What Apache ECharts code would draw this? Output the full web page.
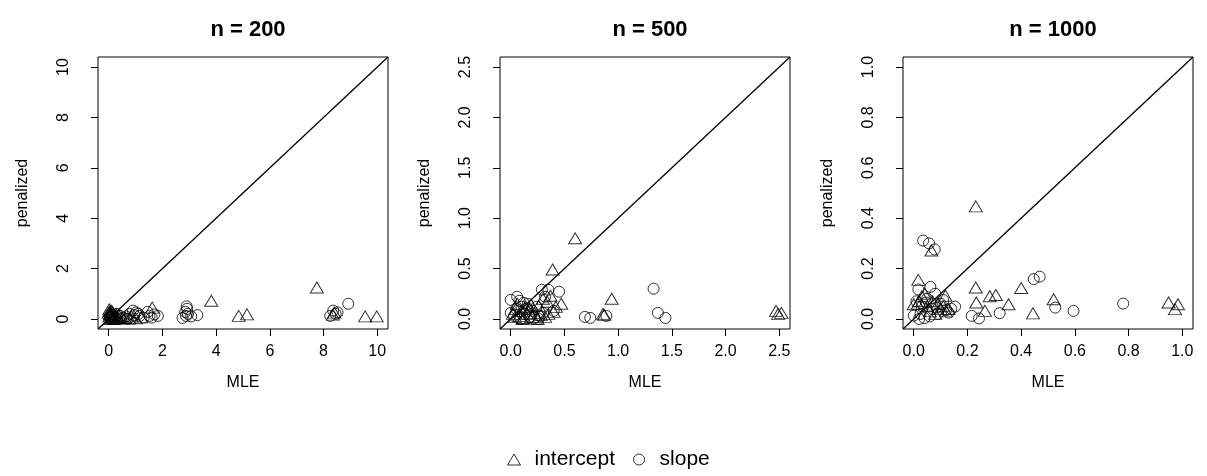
<!DOCTYPE html>
<html>
<head>
<meta charset="utf-8">
<title>MLE vs penalized</title>
<script src="https://cdn.jsdelivr.net/npm/echarts@6/dist/echarts.min.js"></script>
<style>
  html, body { margin: 0; padding: 0; background: #fff; }
  #chart { width: 1207px; height: 476px; }
</style>
</head>
<body>
<div id="chart"></div>
<script>
// Panel titles and axis settings
const panelTitles = ['n = 200', 'n = 500', 'n = 1000'];
const axisLimits = [[-0.4, 10.4], [-0.1, 2.6], [-0.04, 1.04]];
const tickValues = [[0, 2, 4, 6, 8, 10], [0, 0.5, 1, 1.5, 2, 2.5], [0, 0.2, 0.4, 0.6, 0.8, 1]];
const tickDecimals = [0, 1, 1];
const seriesNames = ['intercept', 'slope'];

// Estimates: [MLE, penalized]
const intercept200 = [
  [7.75, 1.25], [3.82, 0.72], [4.84, 0.12], [5.15, 0.18], [9.55, 0.1], [9.98, 0.1],
  [8.35, 0.17], [8.4, 0.25], [1.62, 0.45],
  [0.02, 0.38], [0.05, 0.3], [0.08, 0.22], [0.1, 0.15], [0.03, 0.1], [0.12, 0.05],
  [0.15, 0.02], [0.2, 0.08], [0.06, 0.0], [0.25, 0.12], [0.3, 0.03], [0.18, 0.2],
  [0.0, 0.25], [0.35, 0.06], [0.04, 0.18], [0.09, 0.33], [0.22, 0.0], [0.4, 0.1],
  [0.5, 0.04], [0.14, 0.28], [0.28, 0.18], [0.6, 0.05], [0.75, 0.02], [1.0, 0.03],
  [1.2, 0.06], [0.85, 0.1]
];
const slope200 = [
  [8.92, 0.6], [8.36, 0.33], [8.52, 0.26], [8.25, 0.12], [8.45, 0.2],
  [2.88, 0.12], [2.92, 0.4], [2.9, 0.5], [2.75, 0.04], [3.07, 0.1], [3.3, 0.15],
  [2.85, 0.28], [2.95, 0.2],
  [0.9, 0.33], [1.02, 0.26], [1.15, 0.12], [1.45, 0.28], [1.52, 0.12], [1.83, 0.12],
  [1.7, 0.18], [0.65, 0.1], [0.42, 0.12], [0.55, 0.05], [0.78, 0.2], [1.3, 0.05],
  [0.95, 0.15], [0.3, 0.2], [0.15, 0.1], [0.05, 0.05], [1.6, 0.05], [1.1, 0.2], [0.7, 0.0]
];
const intercept500 = [
  [0.6, 0.8], [0.39, 0.49], [0.94, 0.2], [0.47, 0.15], [0.34, 0.17], [0.37, 0.23],
  [0.4, 0.07], [0.42, 0.12], [0.86, 0.05], [0.87, 0.04], [2.47, 0.08], [2.52, 0.06],
  [2.49, 0.05], [0.26, 0.13], [0.3, 0.2],
  [0.02, 0.05], [0.05, 0.1], [0.08, 0.03], [0.1, 0.08], [0.12, 0.01], [0.15, 0.05],
  [0.18, 0.1], [0.2, 0.02], [0.22, 0.06], [0.25, 0.0], [0.28, 0.04], [0.32, 0.02],
  [0.06, 0.15], [0.14, 0.12], [0.35, 0.05], [0.11, 0.0], [0.19, 0.14], [0.04, 0.02]
];
const slope500 = [
  [1.33, 0.3], [1.37, 0.06], [1.44, 0.01], [0.69, 0.02], [0.74, 0.01], [0.89, 0.03],
  [0.29, 0.29], [0.35, 0.29], [0.45, 0.27], [0.0, 0.19], [0.06, 0.22], [0.4, 0.08],
  [0.32, 0.22], [0.08, 0.18], [0.0, 0.06], [0.03, 0.03], [0.1, 0.12], [0.13, 0.05],
  [0.16, 0.15], [0.2, 0.08], [0.22, 0.01], [0.24, 0.12], [0.27, 0.03], [0.05, 0.1],
  [0.12, 0.16], [0.18, 0.02], [0.09, 0.0], [0.3, 0.06], [0.15, 0.1], [0.26, 0.0]
];
const intercept1000 = [
  [0.231, 0.447], [0.066, 0.272], [0.017, 0.155], [0.231, 0.125], [0.233, 0.065],
  [0.40, 0.123], [0.283, 0.09], [0.306, 0.095], [0.353, 0.058], [0.265, 0.032],
  [0.444, 0.022], [0.521, 0.078], [0.949, 0.065], [0.984, 0.058], [0.973, 0.039],
  [0.118, 0.092], [0.0, 0.058], [0.03, 0.09], [0.05, 0.05], [0.07, 0.07], [0.1, 0.04],
  [0.12, 0.03], [0.08, 0.02], [0.02, 0.07], [0.04, 0.1], [0.09, 0.06], [0.11, 0.05],
  [0.13, 0.04], [0.06, 0.03], [0.015, 0.06]
];
const slope1000 = [
  [0.035, 0.311], [0.057, 0.30], [0.078, 0.276], [0.447, 0.158], [0.469, 0.168],
  [0.78, 0.061], [0.595, 0.032], [0.527, 0.045], [0.32, 0.023], [0.216, 0.012],
  [0.243, 0.002], [0.017, 0.117], [0.062, 0.127], [0.154, 0.049], [0.0, 0.013],
  [0.04, 0.003], [0.08, 0.10], [0.01, 0.07], [0.03, 0.05], [0.05, 0.08], [0.07, 0.04],
  [0.09, 0.02], [0.1, 0.06], [0.12, 0.035], [0.14, 0.04], [0.06, 0.01], [0.025, 0.02],
  [0.11, 0.075], [0.085, 0.045], [0.045, 0.065], [0.13, 0.025], [0.02, 0.0]
];

const interceptData = [intercept200, intercept500, intercept1000];
const slopeData = [slope200, slope500, slope1000];

// Layout of the three panels
const FONT = '"Liberation Sans", Arial, Helvetica, sans-serif';
const gridLefts = [98, 500, 903];
const gridTop = 57, gridW = 290, gridH = 272;

const openStyle = { color: 'rgba(0,0,0,0)', borderColor: '#000', borderWidth: 1 };

const grids = [], xAxes = [], yAxes = [], titles = [], series = [];

gridLefts.forEach((left, i) => {
  grids.push({
    left: left, top: gridTop, width: gridW, height: gridH,
    show: true, borderColor: '#000', borderWidth: 1, backgroundColor: 'transparent'
  });
  const fmt = v => Number(v).toFixed(tickDecimals[i]);
  const common = {
    gridIndex: i, type: 'value',
    min: axisLimits[i][0], max: axisLimits[i][1],
    axisLine: { show: false, onZero: false },
    splitLine: { show: false },
    axisTick: { show: true, inside: false, length: 7, customValues: tickValues[i],
      lineStyle: { color: '#000', width: 1 } },
    nameLocation: 'middle',
    nameTextStyle: { fontFamily: FONT, fontSize: 16, color: '#000' }
  };
  xAxes.push(Object.assign({}, common, {
    position: 'bottom',
    name: 'MLE', nameGap: 46,
    axisLabel: { customValues: tickValues[i], formatter: fmt, margin: 15,
      fontFamily: FONT, fontSize: 16, color: '#000' }
  }));
  yAxes.push(Object.assign({}, common, {
    position: 'left',
    name: 'penalized', nameGap: 67,
    axisLabel: { customValues: tickValues[i], formatter: fmt, rotate: 90, margin: 26,
      fontFamily: FONT, fontSize: 16, color: '#000' }
  }));
  titles.push({
    text: panelTitles[i],
    left: left + gridW / 2, top: 14, textAlign: 'center',
    textStyle: { fontFamily: FONT, fontSize: 22, fontWeight: 'bold', color: '#000' }
  });
  // reference line y = x across the full plotting range
  series.push({
    type: 'line', xAxisIndex: i, yAxisIndex: i, silent: true, symbol: 'none',
    lineStyle: { color: '#000', width: 1.3 },
    data: [[axisLimits[i][0], axisLimits[i][0]], [axisLimits[i][1], axisLimits[i][1]]],
    z: 1
  });
  series.push({
    name: seriesNames[0], type: 'scatter', xAxisIndex: i, yAxisIndex: i,
    symbol: 'triangle', symbolSize: [13, 11], itemStyle: openStyle,
    data: interceptData[i], z: 2
  });
  series.push({
    name: seriesNames[1], type: 'scatter', xAxisIndex: i, yAxisIndex: i,
    symbol: 'circle', symbolSize: 11, itemStyle: openStyle,
    data: slopeData[i], z: 2
  });
});

const chart = echarts.init(document.getElementById('chart'), null, { renderer: 'canvas' });
chart.setOption({
  animation: false,
  backgroundColor: '#fff',
  title: titles,
  grid: grids,
  xAxis: xAxes,
  yAxis: yAxes,
  legend: {
    data: [
      { name: seriesNames[0], icon: 'triangle' },
      { name: seriesNames[1], icon: 'circle' }
    ],
    left: 502, top: 444,
    itemWidth: 13, itemHeight: 11, itemGap: 18,
    itemStyle: openStyle,
    textStyle: { fontFamily: FONT, fontSize: 21, color: '#000', padding: [0, 0, 0, 9] },
    selectedMode: false
  },
  series: series
});
</script>
</body>
</html>
